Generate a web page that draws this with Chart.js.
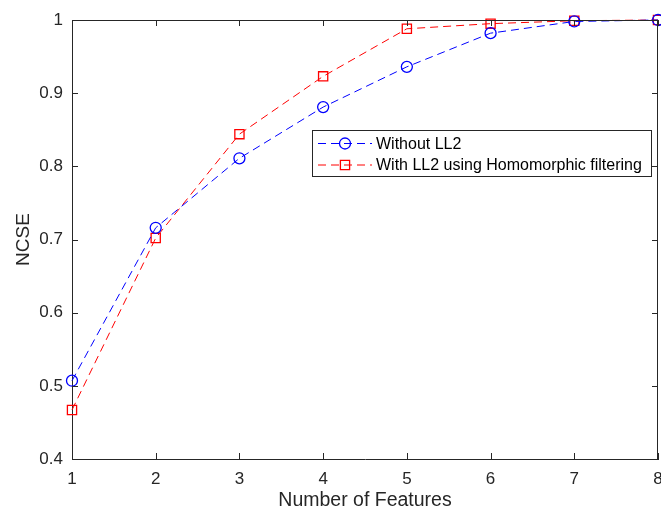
<!DOCTYPE html>
<html>
<head>
<meta charset="utf-8">
<script src="https://cdn.jsdelivr.net/npm/chart.js@4.4.0/dist/chart.umd.min.js"></script>
<style>
  html, body { margin: 0; padding: 0; background: #fff; }
  #wrap { width: 661px; height: 514px; }
</style>
</head>
<body>
<div id="wrap"><canvas id="myChart" width="661" height="514"></canvas></div>
<script>
const features = [1, 2, 3, 4, 5, 6, 7, 8];
const withoutLL2 = [0.507, 0.716, 0.811, 0.881, 0.936, 0.982, 0.998, 1.0];
const withLL2 = [0.467, 0.702, 0.844, 0.923, 0.988, 0.995, 0.999, 1.0];
const xTicks = [1, 2, 3, 4, 5, 6, 7, 8];
const yTicks = [0.4, 0.5, 0.6, 0.7, 0.8, 0.9, 1];

const axisColor = "#262626";
const fontFamily = "'Liberation Sans', Arial, sans-serif";

function toPoints(values) {
  return features.map((f, i) => {
    return { x: f, y: values[i] };
  });
}

// box, inward ticks, x tick labels and the legend, drawn MATLAB style
const matlabLook = {
  id: "matlabLook",
  afterDraw(chart) {
    const ctx = chart.ctx;
    const area = chart.chartArea;
    const xs = chart.scales.x;
    const ys = chart.scales.y;
    const tl = 6;
    ctx.save();
    ctx.strokeStyle = axisColor;
    ctx.lineWidth = 1;
    ctx.beginPath();
    ctx.moveTo(area.left, area.top + 0.5);
    ctx.lineTo(area.right, area.top + 0.5);
    ctx.moveTo(area.right - 0.5, area.top);
    ctx.lineTo(area.right - 0.5, area.bottom);
    xTicks.forEach((t) => {
      const px = Math.round(xs.getPixelForValue(t)) + 0.5;
      ctx.moveTo(px, area.bottom);
      ctx.lineTo(px, area.bottom - tl);
      ctx.moveTo(px, area.top);
      ctx.lineTo(px, area.top + tl);
    });
    yTicks.forEach((t) => {
      const py = Math.round(ys.getPixelForValue(t)) + 0.5;
      ctx.moveTo(area.left, py);
      ctx.lineTo(area.left + tl, py);
      ctx.moveTo(area.right, py);
      ctx.lineTo(area.right - tl, py);
    });
    ctx.stroke();

    // x tick labels (last one runs off the canvas like in the original)
    ctx.fillStyle = axisColor;
    ctx.font = "17px " + fontFamily;
    ctx.textAlign = "center";
    ctx.textBaseline = "middle";
    xTicks.forEach((t) => {
      ctx.fillText(String(t), xs.getPixelForValue(t), area.bottom + 20);
    });

    // legend
    const lx = 312.5, ly = 130.5, lw = 339, lh = 46;
    ctx.fillStyle = "#fff";
    ctx.fillRect(lx, ly, lw, lh);
    ctx.strokeStyle = axisColor;
    ctx.strokeRect(lx, ly, lw, lh);
    ctx.font = "16px " + fontFamily;
    ctx.textAlign = "left";
    chart.data.datasets.forEach((ds, i) => {
      const cy = 143.5 + i * 21.5;
      ctx.strokeStyle = ds.borderColor;
      ctx.lineWidth = 1;
      ctx.setLineDash(ds.borderDash);
      ctx.beginPath();
      ctx.moveTo(318, cy);
      ctx.lineTo(372, cy);
      ctx.stroke();
      ctx.setLineDash([]);
      ctx.lineWidth = ds.pointBorderWidth;
      ctx.fillStyle = "rgba(0,0,0,0)";
      Chart.helpers.drawPoint(ctx, {
        pointStyle: ds.pointStyle,
        radius: ds.pointRadius,
        borderWidth: ds.pointBorderWidth,
        rotation: 0
      }, 345, cy);
      ctx.fillStyle = "#000";
      ctx.fillText(ds.label, 376, cy + 1);
    });
    ctx.restore();
  }
};

const config = {
  type: "scatter",
  data: {
    datasets: [
      {
        label: "Without LL2",
        data: toPoints(withoutLL2),
        showLine: true,
        borderColor: "#0000ff",
        borderWidth: 1,
        borderDash: [8, 5],
        pointStyle: "circle",
        pointRadius: 5.5,
        pointBorderWidth: 1.3,
        pointBorderColor: "#0000ff",
        pointBackgroundColor: "rgba(0,0,0,0)",
        clip: false
      },
      {
        label: "With LL2 using Homomorphic filtering",
        data: toPoints(withLL2),
        showLine: true,
        borderColor: "#ff0000",
        borderWidth: 1,
        borderDash: [8, 5],
        pointStyle: "rect",
        pointRadius: 6.5,
        pointBorderWidth: 1.3,
        pointBorderColor: "#ff0000",
        pointBackgroundColor: "rgba(0,0,0,0)",
        clip: false
      }
    ]
  },
  options: {
    responsive: false,
    animation: false,
    events: [],
    layout: {
      autoPadding: false,
      padding: { top: 20, right: 3, left: 0, bottom: 0 }
    },
    plugins: {
      legend: { display: false },
      tooltip: { enabled: false }
    },
    scales: {
      x: {
        type: "linear",
        min: 1,
        max: 8,
        grid: { display: false, drawTicks: false },
        border: { display: true, color: axisColor, width: 1 },
        afterBuildTicks: (scale) => {
          scale.ticks = xTicks.map((v) => ({ value: v }));
        },
        afterFit: (scale) => {
          scale.height = 55;
        },
        ticks: { display: false },
        title: {
          display: true,
          text: "Number of Features",
          color: axisColor,
          padding: { top: 0, bottom: 1.3 },
          font: { family: fontFamily, size: 19.5 }
        }
      },
      y: {
        min: 0.4,
        max: 1,
        grid: { display: false, drawTicks: false },
        border: { display: true, color: axisColor, width: 1 },
        afterBuildTicks: (scale) => {
          scale.ticks = yTicks.map((v) => ({ value: v }));
        },
        afterFit: (scale) => {
          scale.width = 72;
        },
        ticks: {
          color: axisColor,
          padding: 9,
          autoSkip: false,
          font: { family: fontFamily, size: 17 },
          callback: (v) => String(Number(v.toFixed(1)))
        },
        title: {
          display: true,
          text: "NCSE",
          color: axisColor,
          padding: { top: 12, bottom: 0 },
          font: { family: fontFamily, size: 19 }
        }
      }
    }
  },
  plugins: [matlabLook]
};

new Chart(document.getElementById("myChart"), config);
</script>
</body>
</html>
